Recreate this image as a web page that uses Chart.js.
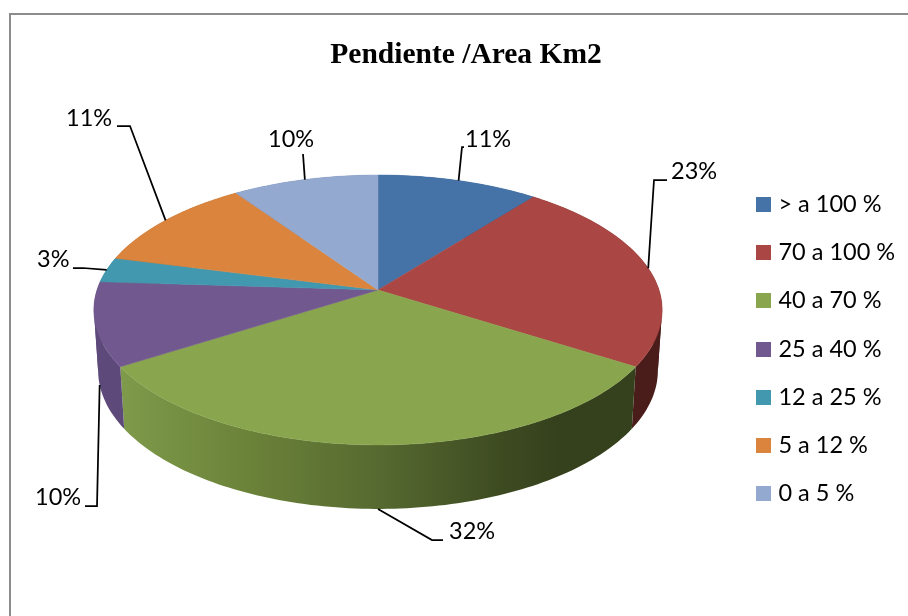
<!DOCTYPE html>
<html>
<head>
<meta charset="utf-8">
<style>
  html, body { margin: 0; padding: 0; background: #fff; }
  canvas { display: block; }
</style>
<script src="https://cdn.jsdelivr.net/npm/chart.js@4"></script>
</head>
<body>
<canvas id="chart" width="908" height="616"></canvas>
<script>
const categories = ['> a 100 %', '70 a 100 %', '40 a 70 %', '25 a 40 %', '12 a 25 %', '5 a 12 %', '0 a 5 %'];
const shares = [10.6, 23.4, 32, 10, 3, 11.4, 9.6];
const colors = ['#4572a7', '#aa4643', '#89a54e', '#71588f', '#4198af', '#db843d', '#93a9cf'];
const sideColors = ['#324f74', '#4a1c1a', null, '#5e4a7a', '#2d6a7a', '#98602c', '#66758f'];

// the pie is seen in perspective: apex, half axes, tilt, and height of the side wall
const view = { cx: 378, cy: 290, a: 281, b: 132, k: 0.148, depth: 60, shrink: 0.985 };

// elbow points and text anchor of each leader line
const leaders = [
  { path: [[462, 147], [464, 147]], text: [465, 139] },
  { path: [[654, 180], [667, 180]], text: [671, 171] },
  { path: [[432, 540], [443, 540]], text: [449, 531] },
  { path: [[97, 506], [85, 506]], text: [35, 497] },
  { path: [[83, 268], [73, 268]], text: [37, 259] },
  { path: [[130, 126], [117, 126]], text: [66, 118] },
  { path: [[303, 154]], text: [268, 139] }
];

function project(angle) {
  const u = Math.cos(angle), v = Math.sin(angle), d = 1 - view.k * v;
  return [view.cx + view.a * u / d, view.cy + view.b * v / d];
}

function lower(p) {
  return [view.cx + (p[0] - view.cx) * view.shrink, p[1] + view.depth + 4 * (p[1] - view.cy) / 155];
}

function rim(start, end) {
  const steps = Math.max(2, Math.ceil((end - start) / 0.02));
  const pts = [];
  for (let i = 0; i <= steps; i++) pts.push(project(start + (end - start) * i / steps));
  return pts;
}

// the wall folds over itself where the rim turns back, so fill each side of the fold on its own
function wallRuns(top) {
  const runs = [];
  let run = [top[0]], sign = 0;
  for (let j = 0; j < top.length - 1; j++) {
    const dx = top[j + 1][0] - top[j][0];
    const s = dx >= 0 ? 1 : -1;
    if (sign && s !== sign) {
      runs.push(run);
      run = [top[j]];
    }
    sign = s;
    run.push(top[j + 1]);
  }
  runs.push(run);
  return runs;
}

function legendSwatch(color) {
  const c = document.createElement('canvas');
  c.width = c.height = 15;
  const g = c.getContext('2d');
  g.fillStyle = color;
  g.fillRect(0, 0, 15, 15);
  return c;
}

const pie3d = {
  id: 'pie3d',
  afterLayout(chart) {
    const lg = chart.legend;
    const h = lg.bottom - lg.top;
    lg.left = 736.5;
    lg.right = lg.left + lg.width;
    lg.top = 349 - h / 2;
    lg.bottom = lg.top + h;
  },
  beforeDraw(chart) {
    const ctx = chart.ctx;
    ctx.save();
    ctx.fillStyle = '#fff';
    ctx.fillRect(0, 0, chart.width, chart.height);
    ctx.strokeStyle = '#8c8c8c';
    ctx.lineWidth = 2;
    ctx.strokeRect(10, 14, 1000, 1000);
    ctx.restore();
  },
  beforeDatasetDraw(chart) {
    const ctx = chart.ctx;
    const arcs = chart.getDatasetMeta(0).data;

    // side wall first, the top face covers what is behind it
    arcs.forEach((arc, i) => {
      let fill = sideColors[i];
      if (i === 2) {
        fill = ctx.createLinearGradient(121, 0, 634, 0);
        fill.addColorStop(0, '#7e9a4a');
        fill.addColorStop(0.25, '#6b8239');
        fill.addColorStop(0.5, '#566a30');
        fill.addColorStop(0.75, '#3d4a21');
        fill.addColorStop(0.85, '#35411c');
        fill.addColorStop(1, '#35411c');
      }
      ctx.fillStyle = fill;
      wallRuns(rim(arc.startAngle, arc.endAngle)).forEach(run => {
        ctx.beginPath();
        run.concat(run.map(lower).reverse()).forEach((p, j) => j ? ctx.lineTo(p[0], p[1]) : ctx.moveTo(p[0], p[1]));
        ctx.closePath();
        ctx.fill();
      });
    });

    arcs.forEach((arc, i) => {
      ctx.beginPath();
      ctx.moveTo(view.cx, view.cy);
      rim(arc.startAngle, arc.endAngle).forEach(p => ctx.lineTo(p[0], p[1]));
      ctx.closePath();
      ctx.fillStyle = colors[i];
      ctx.strokeStyle = colors[i];
      ctx.lineWidth = 0.5;
      ctx.fill();
      ctx.stroke();
    });

    // leader lines and percentages
    const total = shares.reduce((s, v) => s + v, 0);
    ctx.font = '23.5px Lato';
    ctx.textBaseline = 'middle';
    ctx.textAlign = 'left';
    arcs.forEach((arc, i) => {
      const mid = (arc.startAngle + arc.endAngle) / 2;
      let p = project(mid);
      if (Math.sin(mid) > 0) p = lower(p);
      const l = leaders[i];
      ctx.beginPath();
      ctx.moveTo(p[0], p[1]);
      l.path.forEach(q => ctx.lineTo(q[0], q[1]));
      ctx.strokeStyle = '#000';
      ctx.lineWidth = 1.75;
      ctx.stroke();
      ctx.fillStyle = '#000';
      ctx.fillText(Math.round(shares[i] / total * 100) + '%', l.text[0], l.text[1]);
    });
    return false;
  }
};

new Chart(document.getElementById('chart'), {
  type: 'pie',
  data: {
    labels: categories,
    datasets: [{ data: shares, backgroundColor: colors, borderWidth: 0 }]
  },
  options: {
    responsive: false,
    animation: false,
    layout: { padding: { left: 24, right: 0, top: 0, bottom: 0 } },
    plugins: {
      title: {
        display: true,
        text: 'Pendiente /Area Km2',
        color: '#000',
        font: { family: '"Liberation Serif"', size: 29.5, weight: 'bold' },
        padding: { top: 38, bottom: 12 }
      },
      legend: {
        position: 'right',
        labels: {
          color: '#000',
          font: { family: 'Lato', size: 23.5 },
          usePointStyle: true,
          boxWidth: 5.5,
          boxHeight: 15,
          padding: 24.7,
          generateLabels(chart) {
            return Chart.overrides.pie.plugins.legend.labels.generateLabels(chart).map((item, i) => {
              item.pointStyle = legendSwatch(colors[i]);
              return item;
            });
          }
        }
      },
      tooltip: { enabled: false }
    }
  },
  plugins: [pie3d]
});
</script>
</body>
</html>
